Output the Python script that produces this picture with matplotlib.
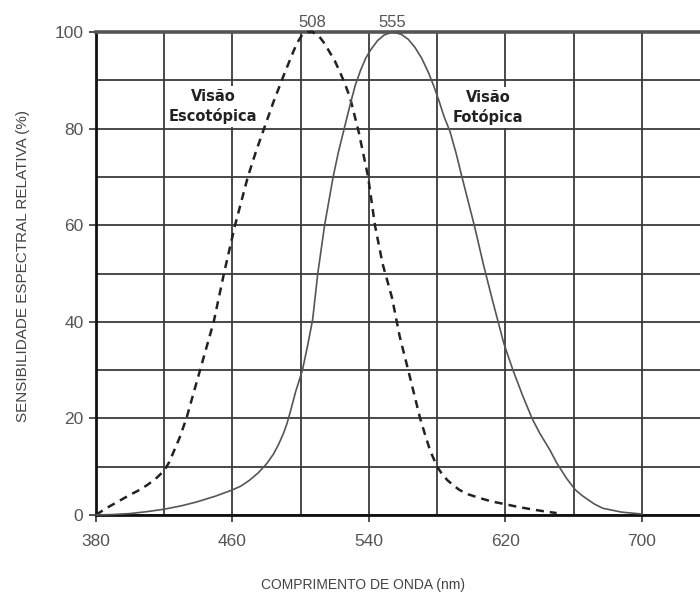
import matplotlib
matplotlib.use("Agg")
import matplotlib.pyplot as plt
from matplotlib.ticker import FixedLocator

plt.rcParams['font.family'] = ['Liberation Sans', 'DejaVu Sans']

# Scotopic (dashed) curve: wavelength (nm), relative sensitivity (%)
scot_nm = [380, 385, 390, 395, 400, 405, 410, 415, 420, 423, 426, 429, 433, 437,
           441, 445, 449, 455, 461.5, 469, 474, 478, 484, 490, 495.5, 498, 501,
           504, 507, 511, 514, 517, 520, 523, 526, 529, 534, 539.5, 543.5, 548,
           553.5, 558, 563, 566.5, 570, 573, 576, 580, 583, 586, 590, 593, 598,
           605, 612, 619, 627, 635, 642, 650]
scot_val = [0, 1.2, 2.2, 3.2, 4.2, 5.1, 6.2, 7.5, 9.2, 11, 13.5, 16, 20, 25,
            30, 35, 40, 50, 60, 70, 75.5, 79.5, 85.5, 91, 95.8, 97.8, 99.5,
            100, 100, 99, 97.6, 95.8, 94, 91.7, 89.2, 86.3, 79.3, 70, 60, 52,
            45, 37, 30, 25, 20, 16.5, 13.2, 10, 8.4, 7.2, 6, 5.2, 4.3,
            3.5, 2.8, 2.3, 1.7, 1.2, 0.8, 0.4]

# Photopic (solid) curve
phot_nm = [380, 390, 400, 410, 420, 430, 439, 450, 460, 465, 470, 475, 480, 484,
           487, 490, 492, 494, 497, 501, 504, 507, 510, 514, 519, 522, 525, 529,
           532, 535, 538, 541, 545, 549, 554, 559, 563, 567, 571, 575, 578, 581,
           584, 587.5, 591, 594.5, 602, 607, 612, 619, 624.4, 630, 635.6, 640,
           646, 650, 656, 661, 665, 672, 677, 688, 700]
phot_val = [0, 0.1, 0.3, 0.7, 1.2, 1.9, 2.7, 3.9, 5.2, 6.0, 7.2, 8.7, 10.6, 12.6,
            14.6, 17, 19, 21.5, 25.5, 30, 35, 40.5, 50, 60, 70, 75, 79.3, 85,
            89, 92, 94.5, 96.3, 98.2, 99.4, 100, 99.5, 98.5, 96.8, 94.5, 91.5, 88.8, 85.8,
            82.5, 79.4, 75, 70, 59.6, 52, 45, 35.6, 30, 24.8, 20, 17,
            13.5, 10.8, 7.5, 5.2, 4, 2.3, 1.4, 0.6, 0.2]

x_ticks = [380, 460, 540, 620, 700]
x_minor = [420, 500, 580, 660]
y_ticks = [0, 20, 40, 60, 80, 100]
y_minor = [10, 30, 50, 70, 90]
peak_labels = [("508", 506.5), ("555", 553.5)]

W, H = 700, 594
fig = plt.figure(figsize=(W / 100, H / 100), dpi=100)
ax = fig.add_axes([96 / W, (H - 515) / H, (W - 96) / W, (515 - 32) / H])

ax.set_xlim(380, 380 + 604 / 1.706)
ax.set_ylim(0, 100)

ax.xaxis.set_major_locator(FixedLocator(x_ticks))
ax.xaxis.set_minor_locator(FixedLocator(x_minor))
ax.yaxis.set_major_locator(FixedLocator(y_ticks))
ax.yaxis.set_minor_locator(FixedLocator(y_minor))

grid_col = '#3a3a3a'
ax.grid(True, which='both', color=grid_col, linewidth=1.3)
ax.set_axisbelow(True)

ax.tick_params(axis='both', which='major', labelsize=12.5, labelcolor='#555555',
               color='#333333', direction='out', length=5, width=1.2)
ax.tick_params(axis='x', which='major', pad=9)
ax.tick_params(axis='y', which='major', pad=4)
ax.tick_params(axis='both', which='minor', length=0)

for side in ['left', 'bottom']:
    ax.spines[side].set_linewidth(2)
    ax.spines[side].set_color('#111111')
ax.spines['top'].set_linewidth(2.6)
ax.spines['top'].set_color('#555555')
ax.spines['right'].set_visible(False)

ax.plot(scot_nm, scot_val, color='#222222', linewidth=1.8,
        linestyle=(0, (3.2, 2.4)), zorder=5, clip_on=False)
ax.plot(phot_nm, phot_val, color='#555555', linewidth=1.2, zorder=5, clip_on=False)

for txt, xv in peak_labels:
    ax.text(xv, 100.5, txt, ha='center', va='bottom', fontsize=12,
            color='#555555')

ax.text(448.6, 84.6, "Visão\nEscotópica", ha='center', va='center', fontsize=10.5,
        fontweight='bold', family=['DejaVu Sans'], color='#222222',
        linespacing=1.35, zorder=3,
        bbox=dict(facecolor='white', edgecolor='none', pad=2))
ax.text(609.8, 84.4, "Visão\nFotópica", ha='center', va='center', fontsize=10.5,
        fontweight='bold', family=['DejaVu Sans'], color='#222222',
        linespacing=1.35, zorder=3,
        bbox=dict(facecolor='white', edgecolor='none', pad=2))

fig.text(363 / W, 1 - 585 / H, "COMPRIMENTO DE ONDA (nm)", ha='center',
         va='center', fontsize=10, color='#444444')
fig.text(23 / W, 1 - 266 / H, "SENSIBILIDADE ESPECTRAL RELATIVA (%)",
         ha='center', va='center', rotation=90, fontsize=11, color='#444444')

fig.savefig("out.png", dpi=100, facecolor='white')
